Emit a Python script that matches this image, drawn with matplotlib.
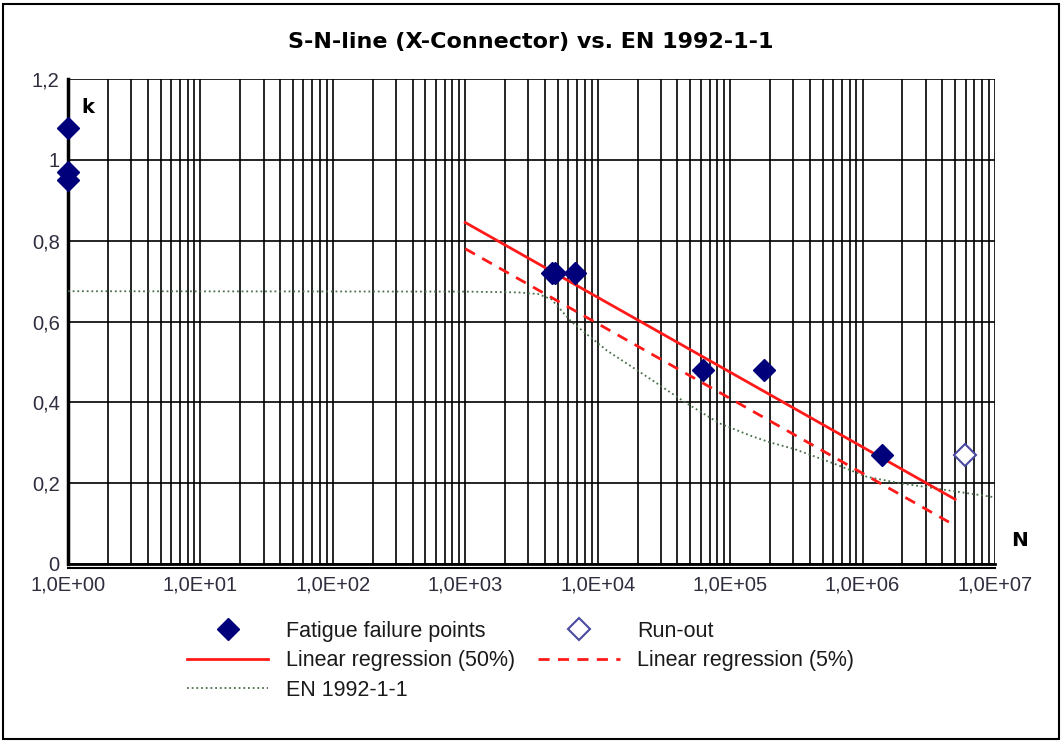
import matplotlib
matplotlib.use("Agg")
import matplotlib.pyplot as plt
import numpy as np
from matplotlib.patches import Rectangle
from matplotlib.transforms import ScaledTranslation
from matplotlib.ticker import FixedLocator, LogLocator, NullFormatter

plt.rcParams['font.family'] = ['Liberation Sans', 'DejaVu Sans']

# Fatigue test results (load level k vs. cycles N)
fail_N = [1, 1, 1, 4500, 4800, 6700, 62000, 180000, 1.4e6]
fail_k = [1.08, 0.97, 0.95, 0.72, 0.72, 0.72, 0.48, 0.48, 0.27]
runout_N = [5.9e6]
runout_k = [0.27]

# Regression lines (mean and 5% fractile)
reg_N = [1e3, 5e6]
reg50_k = [0.845, 0.16]
reg5_k = [0.78, 0.095]

# EN 1992-1-1 design curve
en_logN = [0, 3.0, 3.4, 3.55, 3.65, 3.8, 4.07, 4.3, 4.47, 4.67, 4.92,
           5.15, 5.3, 5.48, 5.78, 6.03, 6.28, 6.53, 7.0]
en_k = [0.675, 0.674, 0.672, 0.668, 0.655, 0.60, 0.528, 0.479, 0.442, 0.398,
        0.348, 0.318, 0.301, 0.285, 0.249, 0.216, 0.200, 0.188, 0.165]

y_ticks = [0, 0.2, 0.4, 0.6, 0.8, 1.0, 1.2]
y_labels = ['0', '0,2', '0,4', '0,6', '0,8', '1', '1,2']
x_ticks = [1e0, 1e1, 1e2, 1e3, 1e4, 1e5, 1e6, 1e7]
x_labels = ['1,0E+00', '1,0E+01', '1,0E+02', '1,0E+03',
            '1,0E+04', '1,0E+05', '1,0E+06', '1,0E+07']

fig = plt.figure(figsize=(10.62, 7.42), dpi=100)
fig.patch.set_facecolor('white')

# outer frame
fig.patches.append(Rectangle((0.003, 0.004), 0.994, 0.991, transform=fig.transFigure,
                             fill=False, edgecolor='black', linewidth=1.5))

ax = fig.add_axes([0.064, 0.2399, 0.8729, 0.6536])
ax.set_xscale('log')
ax.set_xlim(1, 1e7)
ax.set_ylim(0, 1.2)

ax.xaxis.set_major_locator(FixedLocator(x_ticks))
ax.xaxis.set_minor_locator(LogLocator(base=10, subs=np.arange(2, 10), numticks=20))
ax.xaxis.set_minor_formatter(NullFormatter())
ax.set_xticks(x_ticks)
ax.set_xticklabels(x_labels)
ax.set_yticks(y_ticks)
ax.set_yticklabels(y_labels)
ax.tick_params(axis='both', which='both', length=0, labelsize=14.5, labelcolor='#2e2e3e')
ax.tick_params(axis='x', pad=8)
ax.tick_params(axis='y', pad=6)

ax.set_axisbelow(True)
ax.grid(True, which='major', color='black', linewidth=1.2)
ax.grid(True, which='minor', axis='x', color='black', linewidth=1.2)

for side in ['top', 'right']:
    ax.spines[side].set_visible(False)
ax.spines['left'].set_linewidth(2.5)
ax.spines['bottom'].set_linewidth(2.0)
# second rule under the x axis
off = ScaledTranslation(0, -4 / 100, fig.dpi_scale_trans)
ax.plot([0, 1], [0, 0], transform=ax.transAxes + off, color='black',
        linewidth=1.5, clip_on=False)

en_N = [10 ** v for v in en_logN]
h_en, = ax.plot(en_N, en_k, color='#4a704a', linestyle=(0, (1, 1.6)), linewidth=1.3,
                label='EN 1992-1-1', zorder=3)
h50, = ax.plot(reg_N, reg50_k, color='#ff1a1a', linewidth=2.0,
               label='Linear regression (50%)', zorder=4)
h5, = ax.plot(reg_N, reg5_k, color='#ff1a1a', linewidth=2.0, linestyle=(0, (4, 3)),
              label='Linear regression (5%)', zorder=4)
hf, = ax.plot(fail_N, fail_k, linestyle='none', marker='D', markersize=11,
              color='#00007a', label='Fatigue failure points', zorder=5, clip_on=False)
hr, = ax.plot(runout_N, runout_k, linestyle='none', marker='D', markersize=11,
              markerfacecolor='white', markeredgecolor='#4a4aa0', markeredgewidth=1.5,
              label='Run-out', zorder=5, clip_on=False)

ax.text(0.0216, 0.942, 'k', transform=ax.transAxes, fontsize=14, fontweight='bold',
        family='DejaVu Sans', ha='center', va='center')
ax.text(1.027, 0.049, 'N', transform=ax.transAxes, fontsize=14.5, fontweight='bold',
        family='DejaVu Sans', ha='center', va='center')

fig.text(0.4995, 0.943, 'S-N-line (X-Connector) vs. EN 1992-1-1', ha='center',
         va='center', fontsize=16, fontweight='bold', family='DejaVu Sans')

leg = fig.legend([hf, h50, h_en, hr, h5],
                 ['Fatigue failure points', 'Linear regression (50%)', 'EN 1992-1-1',
                  'Run-out', 'Linear regression (5%)'],
                 ncol=2, loc='upper left', bbox_to_anchor=(0.1676, 0.175),
                 frameon=False, fontsize=15.5, handlelength=3.8, handletextpad=0.8,
                 columnspacing=1.07, labelspacing=0.4, borderaxespad=0)
for t in leg.get_texts():
    t.set_color('#1a1a1a')

fig.savefig('out.png', dpi=100)
